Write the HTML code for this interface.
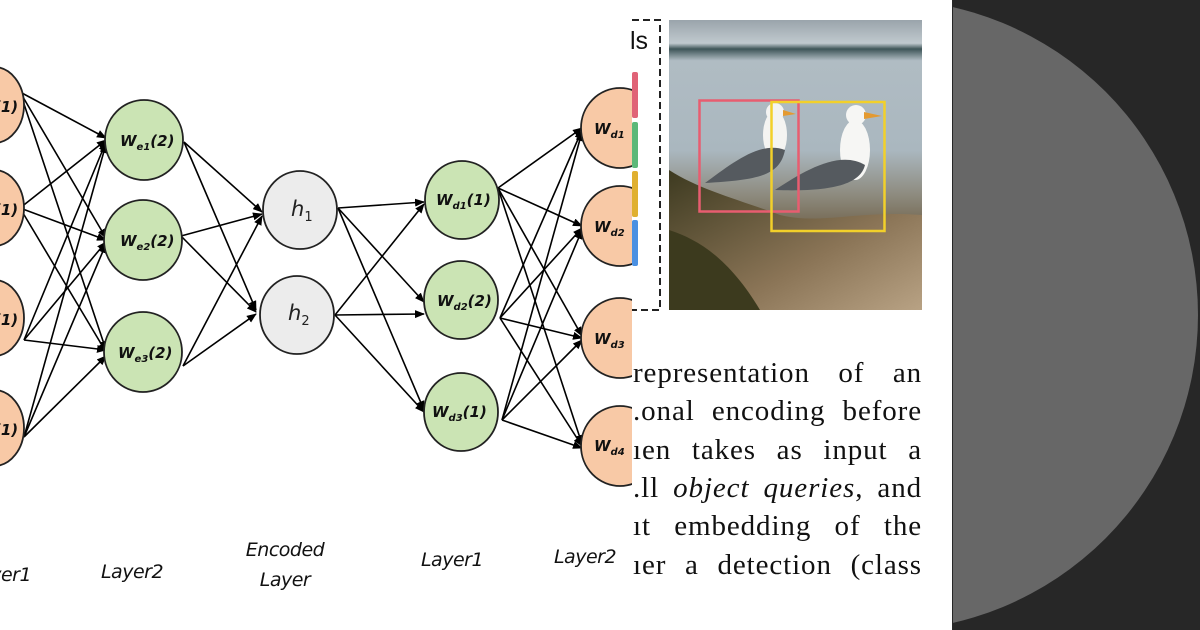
<!DOCTYPE html>
<html><head><meta charset="utf-8"><style>
body{margin:0;width:1200px;height:630px;overflow:hidden;background:#fff;position:relative;font-family:"Liberation Sans",sans-serif}
.lbl{position:absolute;font-family:"DejaVu Sans","Liberation Sans",sans-serif;font-style:italic;font-size:19px;color:#111;text-align:center;letter-spacing:-0.5px}
.tx{position:absolute;left:633px;width:289px;font-family:"Liberation Serif",serif;font-size:29px;letter-spacing:0.9px;color:#111;white-space:nowrap;text-align:justify;text-align-last:justify;line-height:38px}
</style></head><body>
<svg width="1200" height="630" style="position:absolute;left:0;top:0">
<defs><marker id="a" markerWidth="10" markerHeight="8" refX="9" refY="4" orient="auto" markerUnits="userSpaceOnUse"><path d="M0,0 L10,4 L0,8z" fill="#000"/></marker></defs>
<g stroke="#000" stroke-width="1.6" marker-end="url(#a)" fill="none">
<line x1="20" y1="92" x2="106" y2="138"/><line x1="20" y1="92" x2="106" y2="238"/><line x1="20" y1="92" x2="106" y2="350"/>
<line x1="20" y1="208" x2="106" y2="140"/><line x1="20" y1="208" x2="106" y2="240"/><line x1="20" y1="208" x2="106" y2="352"/>
<line x1="24" y1="340" x2="106" y2="142"/><line x1="24" y1="340" x2="106" y2="242"/><line x1="24" y1="340" x2="106" y2="350"/>
<line x1="24" y1="437" x2="106" y2="144"/><line x1="24" y1="437" x2="106" y2="244"/><line x1="24" y1="437" x2="106" y2="356"/>
<line x1="184" y1="142" x2="262" y2="212"/><line x1="184" y1="142" x2="256" y2="310"/>
<line x1="181" y1="236" x2="262" y2="214"/><line x1="181" y1="236" x2="256" y2="312"/>
<line x1="183" y1="366" x2="262" y2="216"/><line x1="183" y1="366" x2="256" y2="314"/>
<line x1="338" y1="208" x2="424" y2="202"/><line x1="338" y1="208" x2="424" y2="302"/><line x1="338" y1="208" x2="424" y2="410"/>
<line x1="335" y1="315" x2="424" y2="204"/><line x1="335" y1="315" x2="424" y2="314"/><line x1="335" y1="315" x2="424" y2="412"/>
<line x1="498" y1="188" x2="582" y2="128"/><line x1="498" y1="188" x2="582" y2="226"/><line x1="498" y1="188" x2="582" y2="336"/><line x1="498" y1="188" x2="582" y2="444"/>
<line x1="500" y1="318" x2="582" y2="130"/><line x1="500" y1="318" x2="582" y2="228"/><line x1="500" y1="318" x2="582" y2="338"/><line x1="500" y1="318" x2="582" y2="446"/>
<line x1="502" y1="420" x2="582" y2="132"/><line x1="502" y1="420" x2="582" y2="230"/><line x1="502" y1="420" x2="582" y2="340"/><line x1="502" y1="420" x2="582" y2="448"/>
</g>
<g stroke="#222" stroke-width="1.8">
<ellipse cx="-6" cy="105" rx="30" ry="38" fill="#f8c9a6"/>
<ellipse cx="-6" cy="208" rx="30" ry="38" fill="#f8c9a6"/>
<ellipse cx="-6" cy="318" rx="30" ry="38" fill="#f8c9a6"/>
<ellipse cx="-6" cy="428" rx="30" ry="38" fill="#f8c9a6"/>
<ellipse cx="144" cy="140" rx="39" ry="40" fill="#cbe4b4"/>
<ellipse cx="143" cy="240" rx="39" ry="40" fill="#cbe4b4"/>
<ellipse cx="143" cy="352" rx="39" ry="40" fill="#cbe4b4"/>
<ellipse cx="300" cy="210" rx="37" ry="39" fill="#ececec"/>
<ellipse cx="297" cy="315" rx="37" ry="39" fill="#ececec"/>
<ellipse cx="462" cy="200" rx="37" ry="39" fill="#cbe4b4"/>
<ellipse cx="461" cy="300" rx="37" ry="39" fill="#cbe4b4"/>
<ellipse cx="461" cy="412" rx="37" ry="39" fill="#cbe4b4"/>
<ellipse cx="620" cy="128" rx="39" ry="40" fill="#f8c9a6"/>
<ellipse cx="620" cy="226" rx="39" ry="40" fill="#f8c9a6"/>
<ellipse cx="620" cy="338" rx="39" ry="40" fill="#f8c9a6"/>
<ellipse cx="620" cy="446" rx="39" ry="40" fill="#f8c9a6"/>
</g>
<g font-family="DejaVu Sans,Liberation Sans,sans-serif" font-style="italic" font-weight="bold" font-size="15" fill="#111">
<text x="-6" y="112">(1)</text><text x="-6" y="215">(1)</text><text x="-6" y="325">(1)</text><text x="-6" y="435">(1)</text>
<text x="120" y="146">W<tspan font-size="10" dy="4">e1</tspan><tspan dy="-4">(2)</tspan></text>
<text x="120" y="246">W<tspan font-size="10" dy="4">e2</tspan><tspan dy="-4">(2)</tspan></text>
<text x="118" y="358">W<tspan font-size="10" dy="4">e3</tspan><tspan dy="-4">(2)</tspan></text>
<text x="436" y="205">W<tspan font-size="10" dy="4">d1</tspan><tspan dy="-4">(1)</tspan></text>
<text x="437" y="306">W<tspan font-size="10" dy="4">d2</tspan><tspan dy="-4">(2)</tspan></text>
<text x="432" y="417">W<tspan font-size="10" dy="4">d3</tspan><tspan dy="-4">(1)</tspan></text>
<text x="594" y="134">W<tspan font-size="10" dy="4">d1</tspan></text>
<text x="594" y="232">W<tspan font-size="10" dy="4">d2</tspan></text>
<text x="594" y="344">W<tspan font-size="10" dy="4">d3</tspan></text>
<text x="594" y="451">W<tspan font-size="10" dy="4">d4</tspan></text>
</g>
<g font-family="DejaVu Sans,sans-serif" font-style="italic" font-size="21" fill="#222">
<text x="291" y="216">h<tspan font-size="13" font-style="normal" dy="5">1</tspan></text>
<text x="288" y="320">h<tspan font-size="13" font-style="normal" dy="5">2</tspan></text>
</g>
<rect x="632" y="0" width="320" height="630" fill="#fff"/>
<path d="M632,20 H660 V310 H632" fill="none" stroke="#222" stroke-width="2" stroke-dasharray="7,4"/>
<text x="630" y="49" font-family="Liberation Sans,sans-serif" font-size="25" fill="#111">ls</text>
<rect x="632" y="72" width="6" height="46" rx="2" fill="#e06377"/>
<rect x="632" y="122" width="6" height="46" rx="2" fill="#5cb878"/>
<rect x="632" y="171" width="6" height="46" rx="2" fill="#e0b030"/>
<rect x="632" y="220" width="6" height="46" rx="2" fill="#4a90e2"/>
<defs><linearGradient id="w" x1="0" y1="0" x2="0" y2="1">
<stop offset="0" stop-color="#9aa4ab"/><stop offset="0.08" stop-color="#c0c9ce"/><stop offset="0.1" stop-color="#3e5558"/><stop offset="0.14" stop-color="#b0bcc3"/><stop offset="0.45" stop-color="#aab7bf"/><stop offset="0.6" stop-color="#8e8c80"/><stop offset="0.75" stop-color="#6b5a40"/><stop offset="1" stop-color="#5a4a32"/></linearGradient>
<linearGradient id="r" x1="0" y1="0" x2="1" y2="1"><stop offset="0" stop-color="#3d3a20"/><stop offset="0.6" stop-color="#8a7456"/><stop offset="1" stop-color="#b8a284"/></linearGradient></defs>
<rect x="669" y="20" width="253" height="290" fill="url(#w)"/>
<path d="M669,170 C700,190 740,200 780,215 C820,225 860,210 922,215 V310 H669z" fill="url(#r)"/>
<path d="M669,230 C700,240 730,260 760,310 H669z" fill="#3c3a1e"/>
<ellipse cx="775" cy="135" rx="12" ry="24" fill="#f4f4f2"/>
<circle cx="775" cy="112" r="9" fill="#f4f4f2"/>
<path d="M783,110 L796,114 L783,116z" fill="#e49a30"/>
<path d="M705,183 C730,165 760,140 785,150 C780,175 760,180 705,183z" fill="#555a5f"/>
<ellipse cx="855" cy="150" rx="15" ry="30" fill="#f6f6f4"/>
<circle cx="856" cy="115" r="10" fill="#f6f6f4"/>
<path d="M864,112 L882,116 L864,119z" fill="#e49a30"/>
<path d="M775,190 C805,170 840,150 865,165 C860,185 830,192 775,190z" fill="#555a5f"/>
<rect x="699.5" y="100.5" width="99" height="111" fill="none" stroke="#e85d70" stroke-width="2.5"/>
<rect x="771.5" y="102" width="113" height="129" fill="none" stroke="#f2d02a" stroke-width="2.5"/>
<rect x="952" y="0" width="248" height="630" fill="#272727"/>
<clipPath id="c"><rect x="953" y="0" width="247" height="630"/></clipPath>
<circle cx="882" cy="315" r="316" fill="#676767" clip-path="url(#c)"/>
</svg>
<div class="tx" style="top:354px">representation of an</div>
<div class="tx" style="top:392px">.onal encoding before</div>
<div class="tx" style="top:431px">ıen takes as input a</div>
<div class="tx" style="top:469px">.ll <i>object queries</i>, and</div>
<div class="tx" style="top:507px">ıt embedding of the</div>
<div class="tx" style="top:546px">ıer a detection (class</div>
<div class="lbl" style="left:-40px;top:564px;width:80px">Layer1</div>
<div class="lbl" style="left:92px;top:561px;width:80px">Layer2</div>
<div class="lbl" style="left:235px;top:535px;width:100px;line-height:30px">Encoded<br>Layer</div>
<div class="lbl" style="left:412px;top:549px;width:80px">Layer1</div>
<div class="lbl" style="left:545px;top:546px;width:80px">Layer2</div>
</body></html>
